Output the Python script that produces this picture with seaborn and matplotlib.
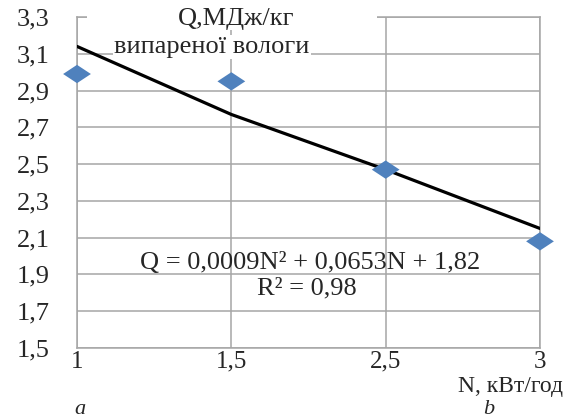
import matplotlib.pyplot as plt
import numpy as np
import pandas as pd
import seaborn as sns
from matplotlib.patches import Rectangle

# данные
n_labels = ["1", "1,5", "2,5", "3"]
q_values = [2.99, 2.95, 2.47, 2.08]
trend_values = [3.14, 2.77, 2.47, 2.15]
y_ticks = [1.5, 1.7, 1.9, 2.1, 2.3, 2.5, 2.7, 2.9, 3.1, 3.3]

W, H = 582, 419

sns.set_style("white")
plt.rcParams['font.family'] = ['Liberation Serif', 'DejaVu Serif']

fig = plt.figure(figsize=(W / 100, H / 100), dpi=100)
ax = fig.add_axes([77 / W, 1 - 348 / H, (540 - 77) / W, (348 - 17) / H])

df = pd.DataFrame({"idx": np.arange(len(n_labels)), "Q": q_values, "T": trend_values})

grid_c = "#a6a6a6"
sns.lineplot(data=df, x="idx", y="T", color="black", linewidth=2.3, ax=ax, zorder=3)
diamond = [(-1, 0), (0, 0.66), (1, 0), (0, -0.66), (-1, 0)]
sns.scatterplot(data=df, x="idx", y="Q", marker=diamond, s=400, color="#4F81BD",
                edgecolor="none", ax=ax, zorder=4, clip_on=False)

ax.set_xlim(0, 3)
ax.set_ylim(1.5, 3.3)
ax.set_xticks(df["idx"])
ax.set_xticklabels(n_labels)
ax.set_yticks(y_ticks)
ax.set_yticklabels([f"{v:.1f}".replace(".", ",") for v in y_ticks])
ax.set_xlabel("")
ax.set_ylabel("")
ax.grid(True, color=grid_c, linewidth=1.1)
for s in ax.spines.values():
    s.set_color(grid_c)
    s.set_linewidth(1.1)
ax.tick_params(axis="y", length=7.5, width=1.1, color=grid_c, pad=12, labelsize=19)
ax.tick_params(axis="x", length=0, pad=2, labelsize=18)

def px(x, y):
    return x / W, 1 - y / H

# белая подложка под заголовком (закрывает верхнюю линию)
fig.patches.append(Rectangle(px(87, 30), 290 / W, 24 / H, transform=fig.transFigure,
                             facecolor="white", edgecolor="none", zorder=5))
box = dict(facecolor="white", edgecolor="none", pad=1)
fig.text(*px(236, 19), "Q,МДж/кг", ha="center", va="center", fontsize=19, zorder=6)
fig.text(*px(212, 47), "випареної вологи", ha="center", va="center", fontsize=19, bbox=box, zorder=6)
fig.text(*px(310, 263), "Q = 0,0009N² + 0,0653N + 1,82", ha="center", va="center", fontsize=19)
fig.text(*px(307, 288), "R² = 0,98", ha="center", va="center", fontsize=19)
fig.text(*px(510, 386.5), "N, кВт/год", ha="center", va="center", fontsize=17)
fig.text(*px(80, 418.5), "a", ha="center", va="bottom", fontsize=16, style="italic")
fig.text(*px(489, 418.5), "b", ha="center", va="bottom", fontsize=16, style="italic")

fig.savefig("out.png", dpi=100)
